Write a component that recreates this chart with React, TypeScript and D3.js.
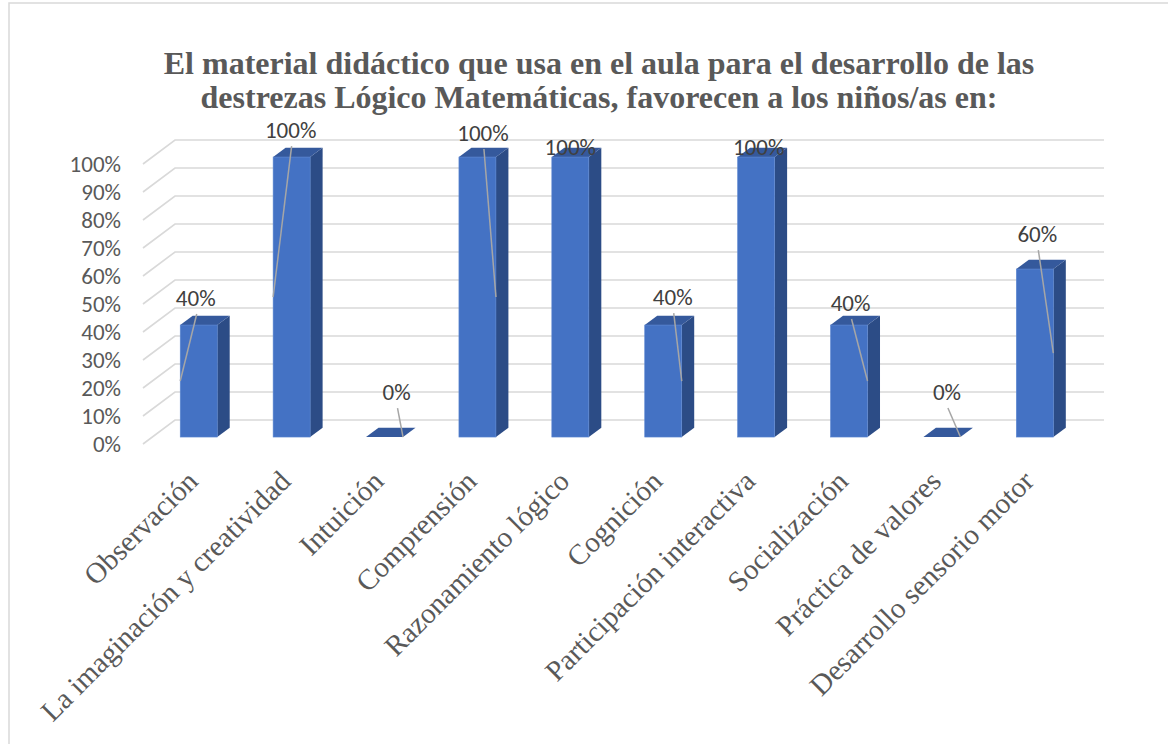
import React from "react";
import * as d3 from "d3";

const categories = [
  "Observación",
  "La imaginación y creatividad",
  "Intuición",
  "Comprensión",
  "Razonamiento lógico",
  "Cognición",
  "Participación interactiva",
  "Socialización",
  "Práctica de valores",
  "Desarrollo sensorio motor",
];
const values = [40, 100, 0, 100, 100, 40, 100, 40, 0, 60];
const yTicks = [0, 10, 20, 30, 40, 50, 60, 70, 80, 90, 100];
const titleLines = [
  "El material didáctico que usa en el aula para el desarrollo de las",
  "destrezas Lógico Matemáticas, favorecen a los niños/as en:",
];

// label placement (manually dragged labels in the original), px relative to bar top
const labelNudges: [number, number][] = [
  [-3, -27], [-1, -27], [12, -45], [5.5, -24], [0, -10],
  [9.5, -28], [2.5, -10], [1.5, -22], [5, -45], [2.5, -35],
];
const leaderSide = ["left", "left", "right", "right", "none", "right", "none", "right", "right", "right"];

const W = 1168;
const H = 744;
const frontLeft = 143;
const frontRight = 1072;
const depthX = 32;
const depthY = -24;
const barFront = 0.29;
const barBack = 0.68;
const barWidth = 37;

const sansFont = "Carlito, Calibri, 'Liberation Sans', Arial, sans-serif";
const serifFont = "'Liberation Serif', 'Times New Roman', serif";

export default function App() {
  const x = d3.scaleBand<string>().domain(categories).range([frontLeft, frontRight]);
  const y = d3.scaleLinear().domain([0, 100]).range([444, 164]);
  const fmt = (v: number) => `${v}%`;

  const fx = depthX * barFront;
  const fy = depthY * barFront;
  const bx = depthX * barBack;
  const by = depthY * barBack;

  const pts = (arr: [number, number][]) => arr.map((p) => p.join(",")).join(" ");

  return (
    <svg
      width={W}
      height={H}
      style={{ position: "absolute", left: 0, top: 0, display: "block", background: "#fff" }}
    >
      <rect x={9} y={3} width={1300} height={900} fill="#fff" stroke="#d9d9d9" strokeWidth={1.5} />
      {titleLines.map((t, i) => (
        <text
          key={i}
          x={599}
          y={74 + i * 34}
          textAnchor="middle"
          fontFamily={serifFont}
          fontWeight="bold"
          fontSize={32}
          fill="#595959"
        >
          {t}
        </text>
      ))}
      {/* gridlines */}
      {yTicks.map((t) => {
        const yy = y(t);
        return (
          <g key={t}>
            <polyline
              points={pts([
                [frontLeft, yy],
                [frontLeft + depthX, yy + depthY],
                [frontRight + depthX, yy + depthY],
              ])}
              fill="none"
              stroke="#d9d9d9"
              strokeWidth={1.6}
            />
            <text
              x={121}
              y={yy}
              dy="0.35em"
              textAnchor="end"
              fontFamily={sansFont}
              fontSize={23}
              fill="#595959"
            >
              {fmt(t)}
            </text>
          </g>
        );
      })}
      {/* bars */}
      {categories.map((c, i) => {
        const v = values[i];
        const cx = (x(c) as number) + x.bandwidth() / 2 + fx;
        const x0 = cx - barWidth / 2;
        const x1 = cx + barWidth / 2;
        const yb = y(0) + fy;
        const yt = y(v) + fy;
        const dx = bx - fx;
        const dy = by - fy;
        return (
          <g key={c}>
            <polygon
              points={pts([[x1, yb], [x1 + dx, yb + dy], [x1 + dx, yt + dy], [x1, yt]])}
              fill="#2c4c86"
            />
            <polygon
              points={pts([[x0, yt], [x1, yt], [x1 + dx, yt + dy], [x0 + dx, yt + dy]])}
              fill="#35599c"
            />
            {v > 0 && (
              <rect x={x0} y={yt} width={barWidth} height={yb - yt} fill="#4472c4" stroke="#5b86d1" strokeWidth={0.6} />
            )}
          </g>
        );
      })}
      {/* data labels + leader lines */}
      {categories.map((c, i) => {
        const v = values[i];
        const cx = (x(c) as number) + x.bandwidth() / 2 + fx;
        const lx = cx + labelNudges[i][0];
        const ly = y(v) + fy + labelNudges[i][1];
        const side = leaderSide[i];
        const ex = side === "left" ? cx - barWidth / 2 : cx + barWidth / 2;
        const ey = y(v / 2) + fy;
        return (
          <g key={c}>
            {side !== "none" && (
              <line x1={lx + 1} y1={ly + 16} x2={ex} y2={ey} stroke="#a6a6a6" strokeWidth={1.5} />
            )}
            <text
              x={lx}
              y={ly}
              dy="0.35em"
              textAnchor="middle"
              fontFamily={sansFont}
              fontSize={23}
              fill="#404040"
            >
              {fmt(v)}
            </text>
          </g>
        );
      })}
      {/* category labels */}
      {categories.map((c) => {
        const cx = (x(c) as number) + x.bandwidth() / 2;
        return (
          <text
            key={c}
            transform={`translate(${cx + 10},${483}) rotate(-45)`}
            textAnchor="end"
            fontFamily={serifFont}
            fontSize={29}
            fill="#595959"
          >
            {c}
          </text>
        );
      })}
    </svg>
  );
}
